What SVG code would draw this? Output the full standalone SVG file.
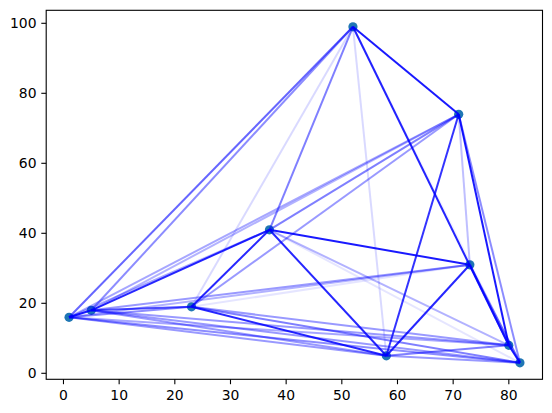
<svg xmlns="http://www.w3.org/2000/svg" width="552" height="413" viewBox="0 0 552 413">
<style>
.edge{stroke:#0000ff;stroke-width:2;fill:none;stroke-linecap:butt}
.pt{fill:#1f77b4}
.tick{stroke:#000;stroke-width:1.1}
.lbl{font-family:"DejaVu Sans",sans-serif;font-size:13.9px;fill:#000}
</style>
<rect x="0" y="0" width="552" height="413" fill="#fff"/>
<g id="points">
<circle class="pt" cx="69.05" cy="317.3" r="4.6"/>
<circle class="pt" cx="91.3" cy="310.3" r="4.6"/>
<circle class="pt" cx="191.5" cy="306.8" r="4.6"/>
<circle class="pt" cx="269.45" cy="229.8" r="4.6"/>
<circle class="pt" cx="352.95" cy="26.8" r="4.6"/>
<circle class="pt" cx="458.7" cy="114.3" r="4.6"/>
<circle class="pt" cx="469.85" cy="264.8" r="4.6"/>
<circle class="pt" cx="386.35" cy="355.8" r="4.6"/>
<circle class="pt" cx="508.8" cy="345.3" r="4.6"/>
<circle class="pt" cx="519.95" cy="362.8" r="4.6"/>
</g>
<g id="connectors">
<line class="edge" x1="69.05" y1="317.3" x2="91.3" y2="310.3" stroke-opacity="0.9"/>
<line class="edge" x1="69.05" y1="317.3" x2="191.5" y2="306.8" stroke-opacity="0.45"/>
<line class="edge" x1="69.05" y1="317.3" x2="269.45" y2="229.8" stroke-opacity="0.35"/>
<line class="edge" x1="69.05" y1="317.3" x2="352.95" y2="26.8" stroke-opacity="0.6"/>
<line class="edge" x1="69.05" y1="317.3" x2="458.7" y2="114.3" stroke-opacity="0.35"/>
<line class="edge" x1="69.05" y1="317.3" x2="469.85" y2="264.8" stroke-opacity="0.3"/>
<line class="edge" x1="69.05" y1="317.3" x2="386.35" y2="355.8" stroke-opacity="0.4"/>
<line class="edge" x1="69.05" y1="317.3" x2="508.8" y2="345.3" stroke-opacity="0.35"/>
<line class="edge" x1="69.05" y1="317.3" x2="519.95" y2="362.8" stroke-opacity="0.45"/>
<line class="edge" x1="91.3" y1="310.3" x2="191.5" y2="306.8" stroke-opacity="0.7"/>
<line class="edge" x1="91.3" y1="310.3" x2="269.45" y2="229.8" stroke-opacity="0.85"/>
<line class="edge" x1="91.3" y1="310.3" x2="352.95" y2="26.8" stroke-opacity="0.45"/>
<line class="edge" x1="91.3" y1="310.3" x2="458.7" y2="114.3" stroke-opacity="0.3"/>
<line class="edge" x1="91.3" y1="310.3" x2="469.85" y2="264.8" stroke-opacity="0.4"/>
<line class="edge" x1="91.3" y1="310.3" x2="386.35" y2="355.8" stroke-opacity="0.4"/>
<line class="edge" x1="91.3" y1="310.3" x2="508.8" y2="345.3" stroke-opacity="0.4"/>
<line class="edge" x1="91.3" y1="310.3" x2="519.95" y2="362.8" stroke-opacity="0.4"/>
<line class="edge" x1="191.5" y1="306.8" x2="269.45" y2="229.8" stroke-opacity="0.85"/>
<line class="edge" x1="191.5" y1="306.8" x2="352.95" y2="26.8" stroke-opacity="0.15"/>
<line class="edge" x1="191.5" y1="306.8" x2="458.7" y2="114.3" stroke-opacity="0.4"/>
<line class="edge" x1="191.5" y1="306.8" x2="469.85" y2="264.8" stroke-opacity="0.1"/>
<line class="edge" x1="191.5" y1="306.8" x2="386.35" y2="355.8" stroke-opacity="0.85"/>
<line class="edge" x1="191.5" y1="306.8" x2="508.8" y2="345.3" stroke-opacity="0.4"/>
<line class="edge" x1="191.5" y1="306.8" x2="519.95" y2="362.8" stroke-opacity="0.5"/>
<line class="edge" x1="269.45" y1="229.8" x2="352.95" y2="26.8" stroke-opacity="0.5"/>
<line class="edge" x1="269.45" y1="229.8" x2="458.7" y2="114.3" stroke-opacity="0.5"/>
<line class="edge" x1="269.45" y1="229.8" x2="469.85" y2="264.8" stroke-opacity="0.9"/>
<line class="edge" x1="269.45" y1="229.8" x2="386.35" y2="355.8" stroke-opacity="0.85"/>
<line class="edge" x1="269.45" y1="229.8" x2="508.8" y2="345.3" stroke-opacity="0.3"/>
<line class="edge" x1="269.45" y1="229.8" x2="519.95" y2="362.8" stroke-opacity="0.1"/>
<line class="edge" x1="352.95" y1="26.8" x2="458.7" y2="114.3" stroke-opacity="0.9"/>
<line class="edge" x1="352.95" y1="26.8" x2="469.85" y2="264.8" stroke-opacity="0.05"/>
<line class="edge" x1="352.95" y1="26.8" x2="386.35" y2="355.8" stroke-opacity="0.15"/>
<line class="edge" x1="352.95" y1="26.8" x2="508.8" y2="345.3" stroke-opacity="0.85"/>
<line class="edge" x1="352.95" y1="26.8" x2="519.95" y2="362.8" stroke-opacity="0.05"/>
<line class="edge" x1="458.7" y1="114.3" x2="469.85" y2="264.8" stroke-opacity="0.25"/>
<line class="edge" x1="458.7" y1="114.3" x2="386.35" y2="355.8" stroke-opacity="0.8"/>
<line class="edge" x1="458.7" y1="114.3" x2="508.8" y2="345.3" stroke-opacity="0.9"/>
<line class="edge" x1="458.7" y1="114.3" x2="519.95" y2="362.8" stroke-opacity="0.45"/>
<line class="edge" x1="469.85" y1="264.8" x2="386.35" y2="355.8" stroke-opacity="0.85"/>
<line class="edge" x1="469.85" y1="264.8" x2="508.8" y2="345.3" stroke-opacity="0.6"/>
<line class="edge" x1="469.85" y1="264.8" x2="519.95" y2="362.8" stroke-opacity="0.6"/>
<line class="edge" x1="386.35" y1="355.8" x2="508.8" y2="345.3" stroke-opacity="0.5"/>
<line class="edge" x1="386.35" y1="355.8" x2="519.95" y2="362.8" stroke-opacity="0.4"/>
<line class="edge" x1="508.8" y1="345.3" x2="519.95" y2="362.8" stroke-opacity="0.9"/>
</g>
<g id="axes">
<rect x="46.2" y="10.3" width="496.3" height="369" fill="none" stroke="#000" stroke-width="1.1"/>
<g class="tick">
<line x1="63.48" y1="379.3" x2="63.48" y2="384.2"/>
<line x1="119.15" y1="379.3" x2="119.15" y2="384.2"/>
<line x1="174.82" y1="379.3" x2="174.82" y2="384.2"/>
<line x1="230.49" y1="379.3" x2="230.49" y2="384.2"/>
<line x1="286.15" y1="379.3" x2="286.15" y2="384.2"/>
<line x1="341.82" y1="379.3" x2="341.82" y2="384.2"/>
<line x1="397.49" y1="379.3" x2="397.49" y2="384.2"/>
<line x1="453.16" y1="379.3" x2="453.16" y2="384.2"/>
<line x1="508.83" y1="379.3" x2="508.83" y2="384.2"/>
<line x1="41.3" y1="373.3" x2="46.2" y2="373.3"/>
<line x1="41.3" y1="303.3" x2="46.2" y2="303.3"/>
<line x1="41.3" y1="233.3" x2="46.2" y2="233.3"/>
<line x1="41.3" y1="163.3" x2="46.2" y2="163.3"/>
<line x1="41.3" y1="93.3" x2="46.2" y2="93.3"/>
<line x1="41.3" y1="23.3" x2="46.2" y2="23.3"/>
</g>
<g class="lbl" text-anchor="middle">
<text x="63.48" y="400">0</text>
<text x="119.15" y="400">10</text>
<text x="174.82" y="400">20</text>
<text x="230.49" y="400">30</text>
<text x="286.15" y="400">40</text>
<text x="341.82" y="400">50</text>
<text x="397.49" y="400">60</text>
<text x="453.16" y="400">70</text>
<text x="508.83" y="400">80</text>
</g>
<g class="lbl" text-anchor="end">
<text x="36.5" y="378.3">0</text>
<text x="36.5" y="308.3">20</text>
<text x="36.5" y="238.3">40</text>
<text x="36.5" y="168.3">60</text>
<text x="36.5" y="98.3">80</text>
<text x="36.5" y="28.3">100</text>
</g>
</g>
</svg>
